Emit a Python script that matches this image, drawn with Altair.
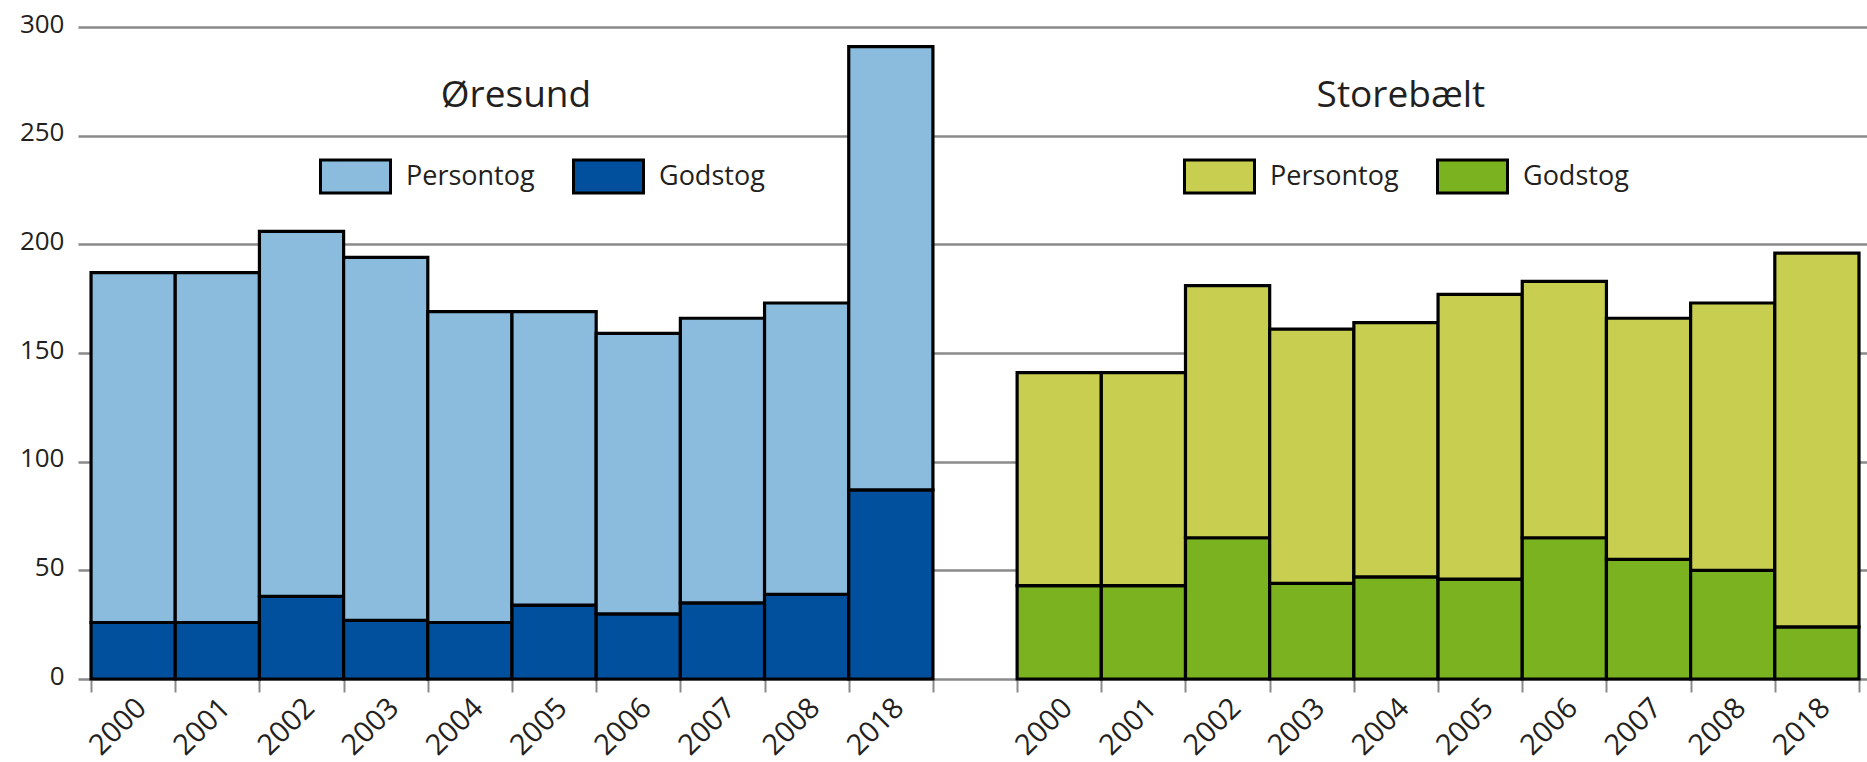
import altair as alt
import pandas as pd

# Train crossings per day over the two fixed links, by year
years = ["2000", "2001", "2002", "2003", "2004", "2005", "2006", "2007", "2008", "2018"]
train_types = ["Persontog", "Godstog"]

oresund_godstog = [26, 26, 38, 27, 26, 34, 30, 35, 39, 87]
oresund_persontog = [161, 161, 168, 167, 143, 135, 129, 131, 134, 204]

storebaelt_godstog = [43, 43, 65, 44, 47, 46, 65, 55, 50, 24]
storebaelt_persontog = [98, 98, 116, 117, 117, 131, 118, 111, 123, 172]

groups = ["Øresund", "Storebælt"]
oresund_colors = ["#8bbcde", "#00509e"]
storebaelt_colors = ["#c8cf50", "#7ab220"]

FONT = "Open Sans"
INK = "#231f20"
GRID = "#8a8a8a"

# One band per year and group, plus an empty band separating the two groups
oresund_slots = [f"Øresund {y}" for y in years]
storebaelt_slots = [f"Storebælt {y}" for y in years]
slots = oresund_slots + ["gap"] + storebaelt_slots


def bar_table(slot_names, person, gods):
    rows = []
    for s, p, g in zip(slot_names, person, gods):
        rows.append({"slot": s, "type": "Godstog", "amount": g, "ord": 0})
        rows.append({"slot": s, "type": "Persontog", "amount": p, "ord": 1})
    return pd.DataFrame(rows)


oresund_df = bar_table(oresund_slots, oresund_persontog, oresund_godstog)
storebaelt_df = bar_table(storebaelt_slots, storebaelt_persontog, storebaelt_godstog)

W, H = 1789, 652

x_scale = alt.Scale(domain=slots, paddingInner=0, paddingOuter=0.125, align=0.62)
y_scale = alt.Scale(domain=[0, 300], nice=False)

# the extra band-edge tick carries no value, so guard the label expression
year_label = (
    "isString(datum.value) && indexof(datum.value, ' ') > 0 "
    "? split(datum.value, ' ')[1] : ''"
)

x_axis = alt.Axis(
    title=None,
    domain=False,
    ticks=True,
    tickBand="extent",
    tickSize=13,
    tickColor=GRID,
    tickWidth=2,
    labelExpr=year_label,
    labelAngle=-45,
    labelAlign="right",
    labelBaseline="top",
    labelPadding=1,
    labelOffset=-2,
    labelFont=FONT,
    labelFontSize=29,
    labelColor=INK,
    grid=False,
    minExtent=85,
    maxExtent=85,
)

y_axis = alt.Axis(
    title=None,
    values=[0, 50, 100, 150, 200, 250, 300],
    domain=False,
    ticks=False,
    grid=True,
    gridColor=GRID,
    gridWidth=2.5,
    labelFont=FONT,
    labelFontSize=26,
    labelColor=INK,
    labelPadding=14,
    labelBaseline="middle",
    labelOffset=-3,
    minExtent=78,
    maxExtent=78,
)

swatch = "M-1,-0.47L1,-0.47L1,0.47L-1,0.47Z"


def legend_at(lx, ly):
    return alt.Legend(
        title=None,
        orient="none",
        legendX=lx,
        legendY=ly,
        direction="horizontal",
        symbolType=swatch,
        symbolSize=4900,
        symbolStrokeColor="black",
        symbolStrokeWidth=3,
        labelFont=FONT,
        labelFontSize=27,
        labelColor=INK,
        labelOffset=14,
        columnPadding=32,
        padding=0,
    )


def bars(df, colors, lx, ly):
    return alt.Chart(df).mark_bar(stroke="black", strokeWidth=3.2).encode(
        x=alt.X("slot:N", scale=x_scale, axis=x_axis),
        y=alt.Y("amount:Q", stack="zero", scale=y_scale, axis=y_axis),
        color=alt.Color(
            "type:N",
            scale=alt.Scale(domain=train_types, range=colors),
            legend=legend_at(lx, ly),
        ),
        order=alt.Order("ord:Q"),
    )


def group_title(name, slot, band_pos, dx):
    df = pd.DataFrame({"name": [name], "slot": [slot], "amount": [263]})
    return alt.Chart(df).mark_text(
        font=FONT, fontSize=37, color=INK, align="center", baseline="alphabetic", dx=dx
    ).encode(
        x=alt.X("slot:N", scale=x_scale, axis=x_axis, bandPosition=band_pos),
        y=alt.Y("amount:Q", scale=y_scale, axis=y_axis),
        text="name:N",
    )


chart = alt.layer(
    bars(oresund_df, oresund_colors, 241, 113),
    bars(storebaelt_df, storebaelt_colors, 1105, 113),
    group_title(groups[0], "Øresund 2004", 1, 4),
    group_title(groups[1], "Storebælt 2004", 0.5, 5),
).resolve_scale(
    color="independent"
).properties(
    width=W,
    height=H,
    padding={"left": 0, "top": 11, "right": 0, "bottom": 0},
    background="white",
).configure_view(
    strokeWidth=0
)

chart.save("out.html", embed_options={"renderer": "svg", "actions": False})
